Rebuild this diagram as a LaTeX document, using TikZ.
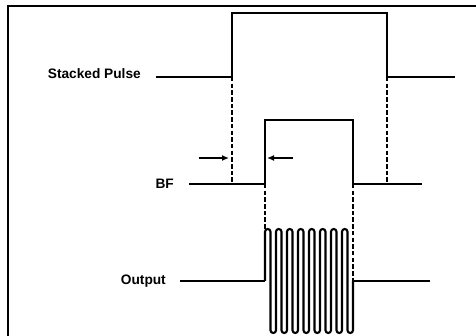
\documentclass[tikz,border=0pt]{standalone}
\usepackage{fontspec}
\setmainfont{Liberation Sans}
\usetikzlibrary{arrows.meta}
\begin{document}
\begin{tikzpicture}[x=1pt,y=-1pt,
  sig/.style={line width=2.1pt,line join=miter},
  guide/.style={line width=1.6pt,dash pattern=on 4.5pt off 2.2pt},
  frameline/.style={line width=1.6pt},
  marker/.style={line width=1.6pt,-{Latex[length=7pt,width=6pt]}},
  lbl/.style={inner sep=0pt,anchor=base east,font=\fontsize{13.7}{15}\selectfont\bfseries}]
\useasboundingbox (0,0) rectangle (476,336);
\fill[white] (0,0) rectangle (476,336);
% frame
\draw[frameline] (8,336) -- (8,6) -- (476,6);
% labels
\node[lbl] (sp) at (141,79) {Stacked Pulse};
\node[lbl] (bf) at (174,189) {BF};
\node[lbl] (out) at (166,285) {Output};
% stacked pulse
\coordinate (spA) at (232,77);
\coordinate (spB) at (387,77);
\draw[sig] (156,77) -- (spA) -- (232,13) -- (387,13) -- (spB) -- (455,77);
% BF
\coordinate (bfA) at (265,184);
\coordinate (bfB) at (353,184);
\draw[sig] (189,184) -- (bfA) -- (265,120) -- (353,120) -- (bfB) -- (422,184);
% guides
\coordinate (gA) at (232,184);
\coordinate (gB) at (387,184);
\coordinate (gC) at (265,229);
\coordinate (gD) at (353,281);
\draw[guide] (spA) -- (gA);
\draw[guide] (spB) -- (gB);
\draw[guide] (bfA) -- (gC);
\draw[guide] (bfB) -- (gD);
% arrows
\coordinate (a1s) at (199,158);
\coordinate (a1e) at (229,158);
\coordinate (a2s) at (293,158);
\coordinate (a2e) at (267,158);
\draw[marker] (a1s) -- (a1e);
\draw[marker] (a2s) -- (a2e);
% output
\coordinate (oA) at (265,281);
\coordinate (oB) at (353,281);
\draw[sig] (180,281) -- (oA);
\draw[sig,rounded corners=2.7pt] (oA)
  \foreach \i in {0,...,7}{
    -- ({265+11*\i},229) -- ({270.5+11*\i},229)
    -- ({270.5+11*\i},333) -- ({276+11*\i},333)}
  -- (oB);
\draw[sig] (oB) -- (430,281);
\end{tikzpicture}
\end{document}
